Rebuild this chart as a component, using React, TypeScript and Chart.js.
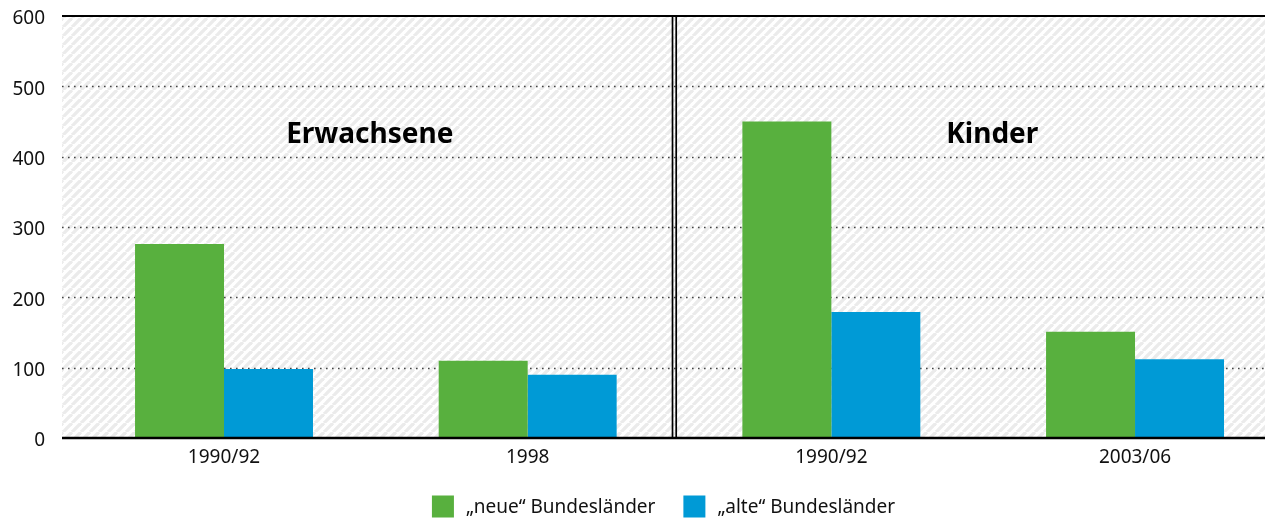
import React, { useEffect, useRef } from "react";
import { Chart, registerables } from "chart.js";

Chart.register(...registerables);

const categories = ["1990/92", "1998", "1990/92", "2003/06"];
const neueValues = [276, 110, 450, 151];
const alteValues = [98, 90, 179, 112];
const seriesLabels = ["„neue“ Bundesländer", "„alte“ Bundesländer"];
const groupTitles = ["Erwachsene", "Kinder"];
const yTickValues = [0, 100, 200, 300, 400, 500, 600];

const GREEN = "#58b03e";
const BLUE = "#009ad6";
const FONT = '"Noto Sans", "Open Sans", sans-serif';

function makePattern(ctx: CanvasRenderingContext2D): CanvasPattern | string {
  const s = 9;
  const c = document.createElement("canvas");
  c.width = s;
  c.height = s;
  const p = c.getContext("2d");
  if (!p) return "#f4f4f4";
  p.fillStyle = "#ffffff";
  p.fillRect(0, 0, s, s);
  p.strokeStyle = "#ebebeb";
  p.lineWidth = 3.3;
  for (const o of [-s, 0, s]) {
    p.beginPath();
    p.moveTo(o, s);
    p.lineTo(o + s, 0);
    p.stroke();
  }
  return ctx.createPattern(c, "repeat") || "#f4f4f4";
}

const decorPlugin = {
  id: "decor",
  beforeDatasetsDraw(chart: any) {
    const { ctx, chartArea: a, scales } = chart;
    const ys = scales.y;
    const xs = scales.x;
    ctx.save();
    ctx.fillStyle = makePattern(ctx);
    ctx.fillRect(a.left, a.top, a.right - a.left, a.bottom - a.top);

    // dotted grid lines
    ctx.strokeStyle = "#444444";
    ctx.lineWidth = 1.6;
    ctx.setLineDash([1.6, 4.4]);
    yTickValues
      .filter((v) => v > 0 && v < 600)
      .forEach((v) => {
        const py = Math.round(ys.getPixelForValue(v)) + 0.5;
        ctx.beginPath();
        ctx.moveTo(a.left, py);
        ctx.lineTo(a.right, py);
        ctx.stroke();
      });
    ctx.setLineDash([]);

    // top line
    ctx.strokeStyle = "#000";
    ctx.lineWidth = 2;
    const top = ys.getPixelForValue(600);
    ctx.beginPath();
    ctx.moveTo(a.left, top);
    ctx.lineTo(a.right, top);
    ctx.stroke();

    // double divider between groups
    const dx = xs.getPixelForValue(1.483);
    ctx.lineWidth = 1.7;
    for (const off of [-1.85, 1.85]) {
      ctx.beginPath();
      ctx.moveTo(dx + off, top);
      ctx.lineTo(dx + off, a.bottom);
      ctx.stroke();
    }
    ctx.restore();
  },
  afterDatasetsDraw(chart: any) {
    const { ctx, chartArea: a, scales } = chart;
    const ys = scales.y;
    const xs = scales.x;
    ctx.save();
    // baseline axis
    ctx.strokeStyle = "#000";
    ctx.lineWidth = 2.7;
    const base = ys.getPixelForValue(0);
    ctx.beginPath();
    ctx.moveTo(a.left, base);
    ctx.lineTo(a.right, base);
    ctx.stroke();

    // group titles
    ctx.fillStyle = "#000";
    ctx.font = `bold 28px ${FONT}`;
    ctx.textAlign = "center";
    ctx.textBaseline = "middle";
    const ty = ys.getPixelForValue(431);
    ctx.fillText(groupTitles[0], xs.getPixelForValue(0.48), ty);
    ctx.fillText(groupTitles[1], xs.getPixelForValue(2.53), ty);

    // legend
    ctx.font = `19px ${FONT}`;
    ctx.textAlign = "left";
    const box = 22;
    const gapBox = 12;
    const gapItems = 28;
    const colors = [GREEN, BLUE];
    const widths = seriesLabels.map((t) => ctx.measureText(t).width);
    const total =
      widths.reduce((s, w) => s + box + gapBox + w, 0) + gapItems * (seriesLabels.length - 1);
    let lx = (a.left + a.right) / 2 - total / 2;
    const ly = chart.height - 11.5;
    seriesLabels.forEach((t, i) => {
      ctx.fillStyle = colors[i];
      ctx.fillRect(lx, ly - box / 2, box, box);
      ctx.fillStyle = "#111";
      ctx.fillText(t, lx + box + gapBox, ly + 1);
      lx += box + gapBox + widths[i] + gapItems;
    });
    ctx.restore();
  },
};

export default function App() {
  const ref = useRef<HTMLCanvasElement | null>(null);

  useEffect(() => {
    if (!ref.current) return;
    const chart = new Chart(ref.current, {
      type: "bar",
      data: {
        datasets: [
          {
            label: seriesLabels[0],
            data: neueValues.map((v, i) => ({ x: i, y: v })),
            backgroundColor: GREEN,
            borderWidth: 0,
            barPercentage: 1,
            categoryPercentage: 0.586,
          },
          {
            label: seriesLabels[1],
            data: alteValues.map((v, i) => ({ x: i, y: v })),
            backgroundColor: BLUE,
            borderWidth: 0,
            barPercentage: 1,
            categoryPercentage: 0.586,
          },
        ],
      },
      options: {
        animation: false,
        responsive: false,
        maintainAspectRatio: false,
        layout: { padding: { top: 16, bottom: 40, left: 0, right: 0 } },
        plugins: {
          legend: { display: false },
          tooltip: { enabled: false },
        },
        scales: {
          x: {
            type: "linear",
            bounds: "data",
            offset: false,
            min: -0.5335,
            max: 3.428,
            grid: { display: false, drawTicks: false, offset: false },
            border: { display: false },
            afterBuildTicks: (s: any) => {
              s.ticks = categories.map((_, i) => ({ value: i }));
            },
            afterFit: (s: any) => {
              s.height = 40;
              s.paddingLeft = 0;
              s.paddingRight = 0;
            },
            ticks: {
              autoSkip: false,
              maxRotation: 0,
              padding: 8,
              color: "#111",
              font: { family: FONT, size: 19 },
              callback: (v: any) => categories[Math.round(Number(v))] ?? "",
            },
          },
          y: {
            min: 0,
            max: 600,
            grid: { display: false, drawTicks: false },
            border: { display: false },
            afterFit: (s: any) => {
              s.width = 62;
              s.paddingTop = 0;
              s.paddingBottom = 0;
            },
            afterBuildTicks: (s: any) => {
              s.ticks = yTickValues.map((v) => ({ value: v }));
            },
            ticks: {
              padding: 17,
              labelOffset: 3,
              color: "#111",
              font: { family: FONT, size: 19 },
            },
          },
        },
      },
      plugins: [decorPlugin],
    } as any);
    return () => chart.destroy();
  }, []);

  return (
    <div style={{ position: "absolute", left: 0, top: 0, width: 1265, height: 518, background: "#fff" }}>
      <canvas ref={ref} width={1265} height={518} />
    </div>
  );
}
